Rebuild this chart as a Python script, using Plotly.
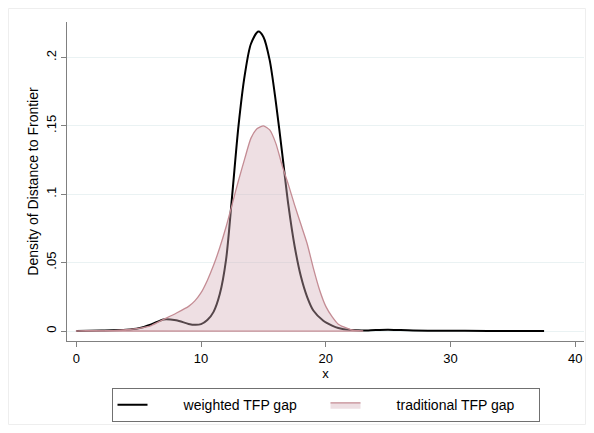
import plotly.graph_objects as go

# weighted TFP gap (black line)
w_x = [0, 2, 4, 5, 6, 7, 8, 9, 9.5, 10, 10.5, 11, 11.5, 12, 12.5, 13, 13.5, 14, 14.6,
       15, 15.5, 16, 16.5, 17, 17.5, 18, 18.5, 19, 19.8, 20.5, 21, 22, 23, 24, 25, 26, 27, 29, 33, 37.5]
w_y = [0.0, 0.0003, 0.0009, 0.002, 0.0048, 0.0085, 0.0078, 0.0052, 0.0045, 0.005, 0.008, 0.014, 0.027,
       0.052, 0.100, 0.150, 0.187, 0.210, 0.219, 0.215, 0.198, 0.167, 0.130, 0.092, 0.062, 0.040,
       0.025, 0.015, 0.0075, 0.004, 0.0022, 0.0007, 0.0004, 0.0008, 0.001, 0.0007, 0.0004, 0.0002, 0.0001, 0.0]

# traditional TFP gap (filled area)
t_x = [0, 3, 4, 5, 6, 7, 8, 9, 9.5, 10, 10.5, 11, 11.5, 12, 12.5, 13, 13.5, 14, 14.5, 15, 15.5, 16, 16.5,
       17, 17.5, 18, 18.5, 19, 19.5, 20, 20.5, 21, 22, 23]
t_y = [0.0, 0.0003, 0.001, 0.002, 0.004, 0.0085, 0.013, 0.018, 0.022, 0.028, 0.037, 0.048, 0.061, 0.076,
       0.093, 0.110, 0.126, 0.141, 0.148, 0.150, 0.147, 0.137, 0.121, 0.107, 0.092, 0.078, 0.064, 0.046,
       0.030, 0.018, 0.0105, 0.005, 0.001, 0.0]

x_ticks = [0, 10, 20, 30, 40]
y_ticks = [0, 0.05, 0.1, 0.15, 0.2]
y_tick_labels = ["0", ".05", ".1", ".15", ".2"]
series_names = ["weighted TFP gap", "traditional TFP gap"]

FONT = "Liberation Sans, Arial, sans-serif"
PAD = "\u00a0" * 8

fig = go.Figure()
fig.add_trace(go.Scatter(
    x=w_x, y=w_y, mode="lines", name=PAD + series_names[0],
    line=dict(color="#000000", width=2, shape="spline", smoothing=0.8),
))
fig.add_trace(go.Scatter(
    x=t_x + [t_x[-1], t_x[0]], y=t_y + [0, 0], mode="lines", name=PAD + series_names[1],
    fill="toself", fillcolor="rgba(212,175,185,0.4)",
    line=dict(color="rgb(196,140,148)", width=1.3, shape="spline", smoothing=0.6),
))

fig.update_layout(
    width=578, height=417,
    margin=dict(l=59, r=2, t=14, b=84),
    paper_bgcolor="white", plot_bgcolor="white",
    font=dict(family=FONT, size=13, color="#000000"),
    showlegend=True,
    legend=dict(
        orientation="h", x=0.5, xanchor="center", y=-0.148, yanchor="top",
        bordercolor="#707070", borderwidth=1, bgcolor="white",
        font=dict(family=FONT, size=14), entrywidth=168, entrywidthmode="pixels",
        traceorder="normal",
    ),
    xaxis=dict(
        range=[-0.75, 40.7], tickvals=x_ticks, showgrid=False, zeroline=False,
        showline=True, linecolor="#808080", linewidth=1.3,
        ticks="outside", ticklen=5, tickcolor="#808080", tickfont=dict(size=13),
        title=dict(text="x", font=dict(size=13), standoff=2),
    ),
    yaxis=dict(
        range=[-0.0073, 0.2259], tickvals=y_ticks, ticktext=y_tick_labels,
        showgrid=True, gridcolor="#EAF2F3", gridwidth=1, zeroline=False,
        showline=True, linecolor="#808080", linewidth=1.3,
        ticks="outside", ticklen=5, tickcolor="#808080", tickangle=-90,
        tickfont=dict(size=13),
        title=dict(text="Density of Distance to Frontier", font=dict(size=14), standoff=1),
    ),
    shapes=[dict(type="rect", xref="paper", yref="paper",
                 x0=-0.1132, x1=1.0029, y0=-0.2618, y1=1.0423,
                 line=dict(color="#EEEEEE", width=1), fillcolor="rgba(0,0,0,0)", layer="below")],
)

fig.write_html("out.html")
